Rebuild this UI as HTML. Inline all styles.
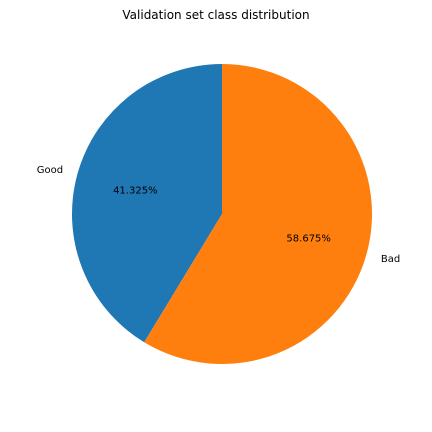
<!DOCTYPE html>
<html><head><meta charset="utf-8"><style>
html,body{margin:0;padding:0;background:#fff;}
svg{display:block;font-family:"DejaVu Sans","Liberation Sans",sans-serif;}
</style></head><body>
<svg id="chart" width="432" height="432" viewBox="0 0 432 432">
<rect width="432" height="432" fill="#fff"/>
<text x="216" y="19" text-anchor="middle" font-size="12" fill="#000">Validation set class distribution</text>
<g id="slices"></g>
</svg>
<script>
const categories = ["Good", "Bad"];
const values = [41.325, 58.675];
const pctLabels = ["41.325%", "58.675%"];
const colors = ["#1f77b4", "#ff7f0e"];
const cx = 222, cy = 214, r = 150, startAngle = 90;
const g = document.getElementById('slices');
const ns = 'http://www.w3.org/2000/svg';
const total = values.reduce((a, b) => a + b, 0);
function pt(deg, rad) {
  const a = deg * Math.PI / 180;
  return [cx + rad * Math.cos(a), cy - rad * Math.sin(a)];
}
let ang = startAngle;
values.forEach((v, i) => {
  const sweep = v / total * 360;
  const a0 = ang, a1 = ang + sweep;
  const p0 = pt(a0, r), p1 = pt(a1, r);
  const large = sweep > 180 ? 1 : 0;
  const path = document.createElementNS(ns, 'path');
  path.setAttribute('d', `M${cx},${cy} L${p0[0]},${p0[1]} A${r},${r} 0 ${large} 0 ${p1[0]},${p1[1]} Z`);
  path.setAttribute('fill', colors[i]);
  
  
  g.appendChild(path);
  const mid = (a0 + a1) / 2;
  const lp = pt(mid, r * 1.1);
  const lab = document.createElementNS(ns, 'text');
  lab.setAttribute('x', lp[0]);
  lab.setAttribute('y', lp[1] + 3.5);
  lab.setAttribute('font-size', '10');
  lab.setAttribute('text-anchor', Math.cos(mid * Math.PI / 180) < 0 ? 'end' : 'start');
  lab.textContent = categories[i];
  
  
  g.appendChild(lab);
  const pp = pt(mid, r * 0.6);
  const pct = document.createElementNS(ns, 'text');
  pct.setAttribute('x', pp[0]);
  pct.setAttribute('y', pp[1] + 3.5);
  pct.setAttribute('font-size', '10');
  pct.setAttribute('text-anchor', 'middle');
  pct.textContent = pctLabels[i];
  
  
  g.appendChild(pct);
  ang = a1;
});
</script>
</body></html>
